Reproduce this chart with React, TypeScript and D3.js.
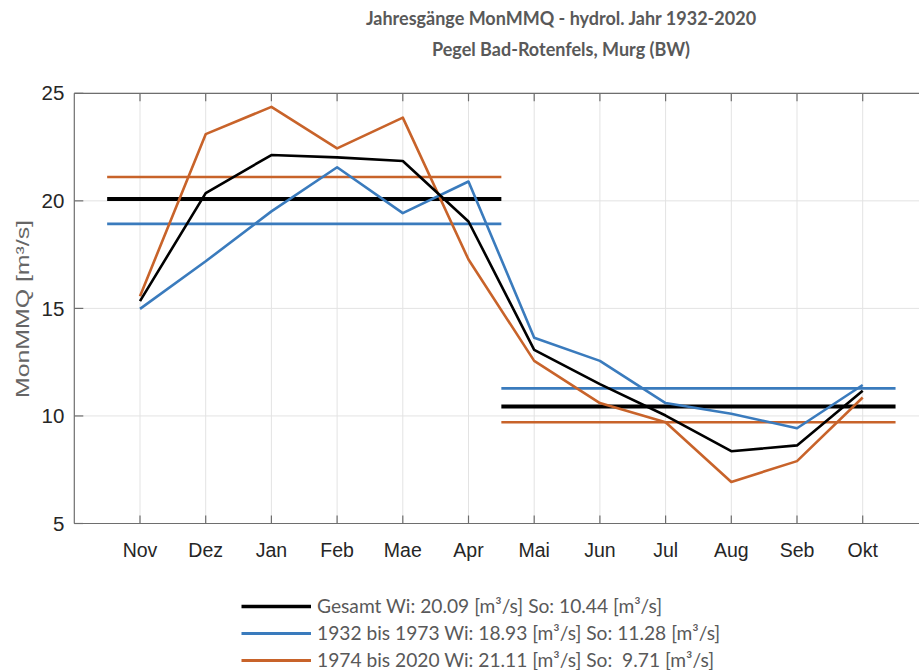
import React from "react";
import * as d3 from "d3";

const months = ["Nov", "Dez", "Jan", "Feb", "Mae", "Apr", "Mai", "Jun", "Jul", "Aug", "Seb", "Okt"];
const gesamt = [15.34, 20.36, 22.13, 22.02, 21.85, 19.04, 13.07, 11.48, 10.02, 8.36, 8.63, 11.17];
const early = [14.98, 17.19, 19.51, 21.56, 19.43, 20.9, 13.64, 12.56, 10.6, 10.1, 9.43, 11.44];
const late = [15.57, 23.1, 24.37, 22.44, 23.87, 17.27, 12.56, 10.6, 9.71, 6.93, 7.9, 10.86];
const winterMeans = [20.09, 18.93, 21.11];
const summerMeans = [10.44, 11.28, 9.71];
const seriesNames = [
  "Gesamt Wi: 20.09 [m³/s] So: 10.44 [m³/s]",
  "1932 bis 1973 Wi: 18.93 [m³/s] So: 11.28 [m³/s]",
  "1974 bis 2020 Wi: 21.11 [m³/s] So:  9.71 [m³/s]",
];
const yTicks = [5, 10, 15, 20, 25];
const titleLines = ["Jahresgänge MonMMQ - hydrol. Jahr 1932-2020", "Pegel Bad-Rotenfels, Murg (BW)"];

const colors = ["#000000", "#3a7bbd", "#c8632a"];
const meanWidths = [4, 2.6, 2.6];

export default function App() {
  const W = 919, H = 670;
  const left = 74.3, top = 93.3, bottom = 523.5;
  const x = d3.scaleLinear().domain([0, 13]).range([left, left + 13 * 65.7]);
  const y = d3.scaleLinear().domain([5, 25]).range([bottom, top]);
  const line = d3.line<number>().x((_, i) => x(i + 1)).y((d) => y(d));
  const all = [gesamt, early, late];
  const right = x(13);
  const fontTick = "'Liberation Sans', Arial, sans-serif";
  const fontCal = "Lato, 'Open Sans', sans-serif";
  return (
    <svg width={W} height={H} style={{ position: "absolute", left: 0, top: 0, background: "#fff" }}>
      {titleLines.map((t, i) => (
        <text key={i} x={561} y={25 + i * 31} textAnchor="middle" fontFamily={fontCal} fontWeight="bold" fontSize={18} fill="#595959">
          {t}
        </text>
      ))}
      {/* grid */}
      {months.map((m, i) => (
        <line key={"gx" + i} x1={x(i + 1)} x2={x(i + 1)} y1={top} y2={bottom} stroke="#e3e3e3" strokeWidth={1} />
      ))}
      {yTicks.map((t) => (
        <line key={"gy" + t} x1={left} x2={right} y1={y(t)} y2={y(t)} stroke="#e3e3e3" strokeWidth={1} />
      ))}
      {/* frame */}
      <line x1={left} x2={right} y1={top} y2={top} stroke="#6e6e6e" strokeWidth={1.2} />
      <line x1={left} x2={right} y1={bottom} y2={bottom} stroke="#6e6e6e" strokeWidth={1.2} />
      <line x1={left} x2={left} y1={top} y2={bottom} stroke="#6e6e6e" strokeWidth={1.2} />
      {/* ticks */}
      {months.map((m, i) => (
        <g key={"tx" + i}>
          <line x1={x(i + 1)} x2={x(i + 1)} y1={bottom} y2={bottom - 8} stroke="#6e6e6e" strokeWidth={1.2} />
          <line x1={x(i + 1)} x2={x(i + 1)} y1={top} y2={top + 8} stroke="#6e6e6e" strokeWidth={1.2} />
          <text x={x(i + 1)} y={bottom + 33} textAnchor="middle" fontFamily={fontTick} fontSize={19.5} fill="#262626">
            {m}
          </text>
        </g>
      ))}
      {yTicks.map((t) => (
        <g key={"ty" + t}>
          <line x1={left} x2={left + 9} y1={y(t)} y2={y(t)} stroke="#6e6e6e" strokeWidth={1.2} />
          <text x={left - 10} y={y(t)} dy="0.35em" textAnchor="end" fontFamily={fontTick} fontSize={20.5} fill="#262626">
            {t}
          </text>
        </g>
      ))}
      <text
        transform={`translate(29,309) rotate(-90)`}
        textAnchor="middle"
        fontFamily={fontTick}
        fontSize={18}
        fill="#666"
        textLength={178}
        lengthAdjust="spacingAndGlyphs"
      >
        MonMMQ [m³/s]
      </text>
      {/* mean lines */}
      {winterMeans.map((v, i) => (
        <line key={"wm" + i} x1={x(0.5)} x2={x(6.5)} y1={y(v)} y2={y(v)} stroke={colors[i]} strokeWidth={meanWidths[i]} />
      ))}
      {summerMeans.map((v, i) => (
        <line key={"sm" + i} x1={x(6.5)} x2={x(12.5)} y1={y(v)} y2={y(v)} stroke={colors[i]} strokeWidth={meanWidths[i]} />
      ))}
      {/* data lines */}
      {[2, 1, 0].map((k) => (
        <path key={"l" + k} d={line(all[k]) || ""} fill="none" stroke={colors[k]} strokeWidth={2.6} strokeLinejoin="round" />
      ))}
      {/* legend */}
      {seriesNames.map((s, i) => (
        <g key={"lg" + i}>
          <line x1={241.5} x2={311} y1={606.5 + i * 27} y2={606.5 + i * 27} stroke={colors[i]} strokeWidth={meanWidths[i] === 4 ? 3.5 : 3} />
          <text x={317} y={606.5 + i * 27} dy="0.35em" fontFamily={fontCal} fontSize={19.2} fill="#595959" style={{ whiteSpace: "pre" }}>
            {s}
          </text>
        </g>
      ))}
    </svg>
  );
}
